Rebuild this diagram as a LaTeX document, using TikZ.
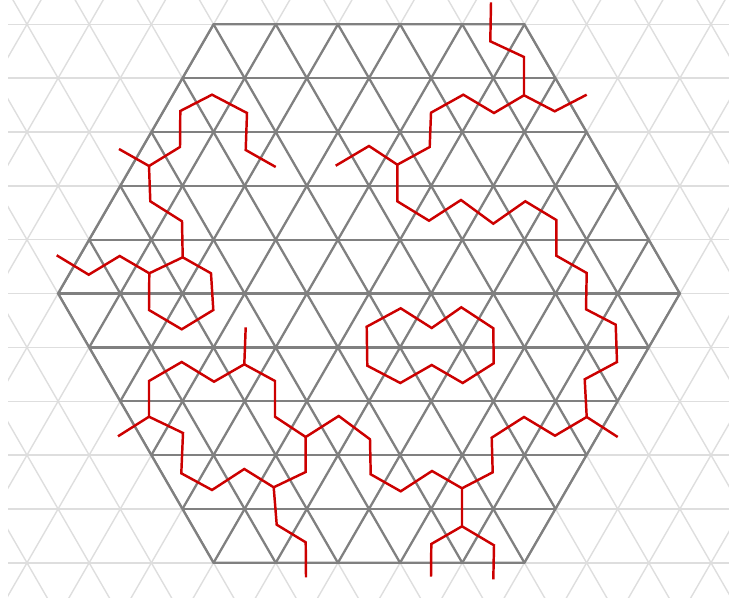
\documentclass[tikz,border=0pt]{standalone}
\tikzset{
  gridfaint/.style={draw=black!13,line width=0.8pt},
  griddark/.style={draw=black!50,line width=1.3pt},
  strand/.style={draw=red!80!black,line width=1.4pt},
}
\newcommand{\latticelines}[1]{%
  \foreach \r in {0,...,10} {
    \draw[#1] (0,24.3+53.85*\r) -- (740,24.3+53.85*\r);
  }
  \foreach \i in {-12,...,22} {
    \draw[#1] (27+62.18*\i,24.3) ++(-31.09*1,-53.85) -- ++(31.09*13,53.85*13);
    \draw[#1] (27+62.18*\i,24.3) ++(31.09*1,-53.85) -- ++(-31.09*13,53.85*13);
  }
}
\begin{document}
\begin{tikzpicture}[x=0.02cm,y=-0.02cm]
\useasboundingbox (0,0) rectangle (729,604);

% faint lattice
\begin{scope}
\clip (8,0) rectangle (729,597.5);
\latticelines{gridfaint}
\end{scope}

% hexagon
\begin{scope}
\clip (213.5,24.3) -- (524.4,24.3) -- (679.9,293.5) -- (524.4,562.8) -- (213.5,562.8) -- (58,293.5) -- cycle;
\latticelines{griddark}
\end{scope}
\draw[griddark] (213.5,24.3) -- (524.4,24.3) -- (679.9,293.5) -- (524.4,562.8) -- (213.5,562.8) -- (58,293.5) -- cycle;

% junctions
\coordinate (a) at (149,166);
\coordinate (b) at (182.7,257.3);
\coordinate (c) at (149.3,273.3);
\coordinate (d) at (524,95.3);
\coordinate (e) at (397.3,164.7);
\coordinate (f) at (586.7,417);
\coordinate (g) at (462,488.3);
\coordinate (h) at (462,526.3);
\coordinate (k) at (305.7,437);
\coordinate (m) at (244.3,364.3);
\coordinate (n) at (149,416.7);
\coordinate (o) at (273.7,487.3);

% upper left
\draw[strand] (119,149) -- (a) -- (180,147) -- (180.3,111) -- (212,94.7) -- (247,113) -- (245.7,150) -- (275.7,167);
\draw[strand] (a) -- (150.3,201.3) -- (182,221.3) -- (b) -- (c) -- (119.7,256) -- (88.7,274.7) -- (56.7,255.3);
\draw[strand] (b) -- (211,273.3) -- (213.3,310) -- (181.7,329.3) -- (149,310) -- (c);

% upper right
\draw[strand] (491,2.3) -- (490.3,41.3) -- (524,57) -- (d) -- (554.7,111.3) -- (586.7,94.7);
\draw[strand] (d) -- (494,113) -- (463.3,94.7) -- (431,112.7) -- (429.7,147) -- (e) -- (369,146) -- (335.7,165.7);

% long right side
\draw[strand] (e) -- (397.3,201.3) -- (429,220.7) -- (461,200) -- (493.3,223.7) -- (525.3,201.3) -- (556.3,220) -- (556.3,255.7) -- (586.7,273) -- (586,309.3) -- (615.7,324.7) -- (617,362) -- (584.7,379.3) -- (f) -- (617.7,437);
\draw[strand] (f) -- (555,435.7) -- (524,417) -- (491.7,437.7) -- (492.7,472.3) -- (g) -- (h) -- (431.3,544) -- (431,576.7);
\draw[strand] (h) -- (494,545.3) -- (493.3,579.3);

% bottom
\draw[strand] (g) -- (432,471) -- (400.7,491.3) -- (370.7,474.3) -- (370,439.3) -- (338.7,416) -- (k) -- (275,416.7) -- (275,381) -- (m) -- (245.7,327.3);
\draw[strand] (m) -- (214,381.7) -- (181.7,362) -- (149,381) -- (n) -- (118,436.3);
\draw[strand] (n) -- (183,433) -- (181.3,473.3) -- (212,490) -- (244.3,469) -- (o) -- (305.7,472) -- (k);
\draw[strand] (o) -- (276.7,524.7) -- (305.7,542.3) -- (306,577.3);

% closed loop
\draw[strand] (366.7,326.7) -- (400.7,308.3) -- (431.7,328) -- (461.3,307.3) -- (493.3,328.3) -- (493.7,363.3) -- (462.7,383) -- (431.7,365) -- (400.3,383) -- (367.3,365.7) -- cycle;
\end{tikzpicture}
\end{document}
